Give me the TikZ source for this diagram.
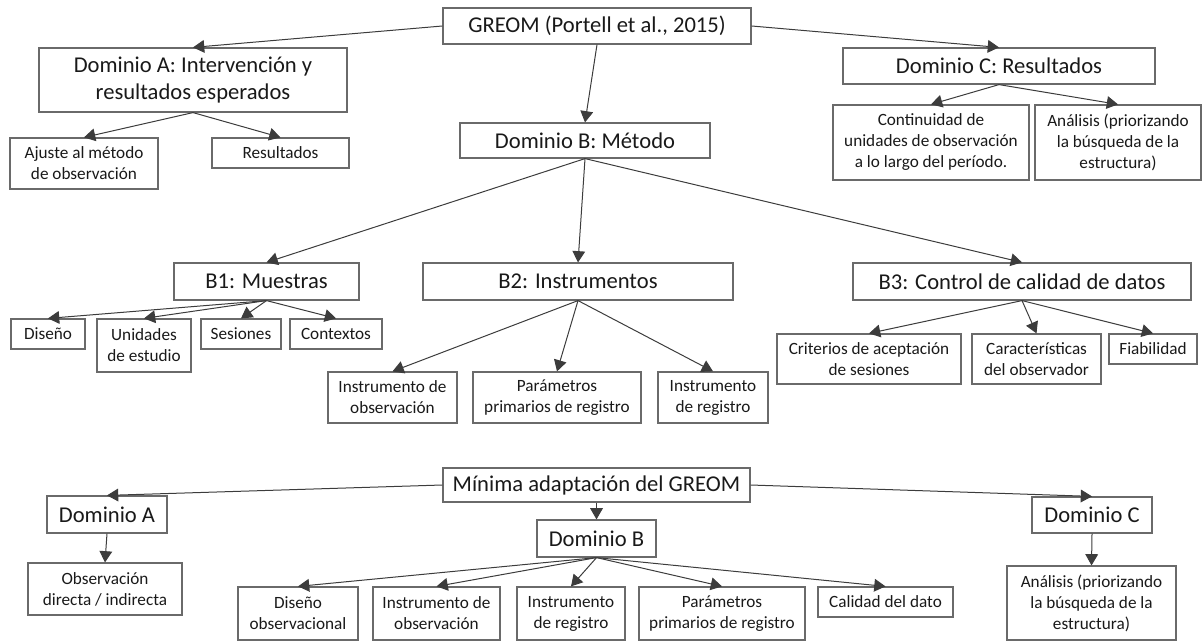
\documentclass[tikz,border=0pt]{standalone}
\usepackage{fontspec}
\setmainfont{Carlito}
\usepackage{tikz}
\usetikzlibrary{arrows}
\definecolor{boxgray}{HTML}{6A6A6A}
\definecolor{linegray}{HTML}{3C3C3C}
\tikzset{
  box/.style={draw=boxgray,line width=0.6pt,inner sep=0pt,align=center,text=black!90},
  big/.style={box,font=\fontsize{11.3}{13.5}\selectfont},
  small/.style={box,font=\fontsize{8.6}{10.5}\selectfont},
}

\begin{document}
\begin{tikzpicture}[x=0.5pt,y=-0.5pt,>=triangle 60]
\useasboundingbox (0,0) rectangle (1202,641);
% GREOM
\node[big,minimum width=154pt,minimum height=18pt] (greom) at (597,26) {GREOM (Portell et al., 2015)};
\node[big,minimum width=154pt,minimum height=32pt] (domA) at (193,80) {Dominio A: Intervención y\\resultados esperados};
\node[small,minimum width=74pt,minimum height=25.5pt] (ajuste) at (84,163.5) {Ajuste al método\\de observación};
\node[small,minimum width=68.5pt,minimum height=15pt] (resA) at (280.5,153) {Resultados};
\node[big,minimum width=125pt,minimum height=17.5pt] (domB) at (585,140.5) {Dominio B: Método};
\node[big,minimum width=156pt,minimum height=18pt] (domC) at (999,66) {Dominio C: Resultados};
\node[small,minimum width=98pt,minimum height=37.5pt] (contin) at (931,142.5) {Continuidad de\\unidades de observación\\a lo largo del período.};
\node[small,minimum width=83pt,minimum height=37.5pt] (analC) at (1118,142.5) {Análisis (priorizando\\la búsqueda de la\\estructura)};
%
\node[big,minimum width=92.5pt,minimum height=18.5pt] (b1) at (266.5,281.5) {B1: Muestras};
\node[big,minimum width=155pt,minimum height=18.5pt] (b2) at (578,281.5) {B2: Instrumentos};
\node[big,minimum width=169pt,minimum height=18.5pt] (b3) at (1022,281.5) {B3: Control de calidad de datos};
%
\node[small,minimum width=37pt,minimum height=15pt] (dis) at (48,334) {Diseño};
\node[small,minimum width=47pt,minimum height=26.5pt] (unid) at (144,345.5) {Unidades\\de estudio};
\node[small,minimum width=40pt,minimum height=15pt] (ses) at (241,334) {Sesiones};
\node[small,minimum width=46pt,minimum height=15pt] (ctx) at (336,334) {Contextos};
\node[small,minimum width=64.5pt,minimum height=25.5pt] (iobs) at (392.5,397.5) {Instrumento de\\observación};
\node[small,minimum width=84pt,minimum height=25.5pt] (par) at (557,397.5) {Parámetros\\primarios de registro};
\node[small,minimum width=55pt,minimum height=25.5pt] (ireg) at (713,397.5) {Instrumento\\de registro};
\node[small,minimum width=92pt,minimum height=25pt] (crit) at (869,359) {Criterios de aceptación\\de sesiones};
\node[small,minimum width=64.5pt,minimum height=25pt] (carac) at (1036.5,359) {Características\\del observador};
\node[small,minimum width=44pt,minimum height=15pt] (fiab) at (1153,349) {Fiabilidad};
% adaptacion
\node[big,minimum width=153.5pt,minimum height=17pt] (min) at (596.5,485) {Mínima adaptación del GREOM};
\node[big,minimum width=60pt,minimum height=18.5pt] (mA) at (107,514.5) {Dominio A};
\node[small,minimum width=77pt,minimum height=26pt] (obsd) at (105,589) {Observación\\directa / indirecta};
\node[big,minimum width=59.5pt,minimum height=18.5pt] (mB) at (596.5,538.5) {Dominio B};
\node[big,minimum width=60pt,minimum height=18pt] (mC) at (1092,515) {Dominio C};
\node[small,minimum width=84.5pt,minimum height=37pt] (analM) at (1091.5,603) {Análisis (priorizando\\la búsqueda de la\\estructura)};
\node[small,minimum width=60pt,minimum height=26.5pt] (disO) at (298,613.5) {Diseño\\observacional};
\node[small,minimum width=63.5pt,minimum height=26.5pt] (miobs) at (436.5,613.5) {Instrumento de\\observación};
\node[small,minimum width=54pt,minimum height=26.5pt] (mireg) at (571,613.5) {Instrumento\\de registro};
\node[small,minimum width=83pt,minimum height=26.5pt] (mpar) at (722,613.5) {Parámetros\\primarios de registro};
\node[small,minimum width=67.5pt,minimum height=15pt] (cal) at (885.5,602) {Calidad del dato};

\path[->,linegray,line width=0.5pt]
          (greom.west) edge (domA.north)
          (greom.south) edge (domB.north)
          (greom.east) edge (domC.north)
          (domA.south) edge (ajuste.north)
          (domA.south) edge (resA.north)
          (domC.south) edge (contin.north)
          (domC.south) edge (analC.north)
          (domB.south) edge (b1.north)
          (domB.south) edge (b2.north)
          (domB.south) edge (b3.north)
          (b1.south) edge (dis.north)
          (b1.south) edge (unid.north)
          (b1.south) edge (ses.north)
          (b1.south) edge (ctx.north)
          (b2.south) edge (iobs.north)
          (b2.south) edge (par.north)
          (b2.south) edge (ireg.north)
          (b3.south) edge (crit.north)
          (b3.south) edge (carac.north)
          (b3.south) edge (fiab.north)
;
\path[->,linegray,line width=0.5pt]
          (min.west) edge (mA.north)
          (min.south) edge (mB.north)
          (min.east) edge (mC.north)
          (mA.south) edge (obsd.north)
          (mC.south) edge (analM.north)
          (mB.south) edge (disO.north)
          (mB.south) edge (miobs.north)
          (mB.south) edge (mireg.north)
          (mB.south) edge (mpar.north)
          (mB.south) edge (cal.north)
;
\end{tikzpicture}
\end{document}
